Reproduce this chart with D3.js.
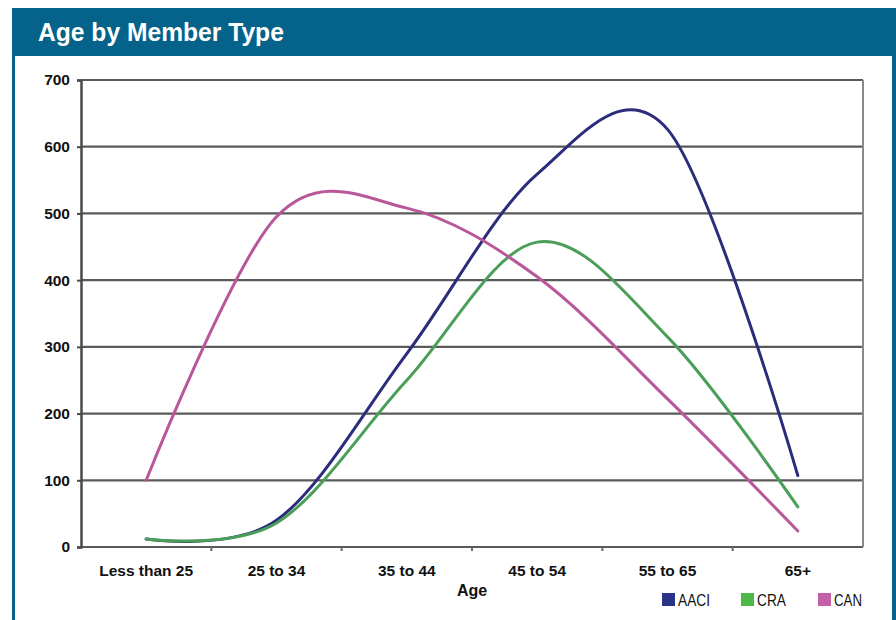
<!DOCTYPE html>
<html>
<head>
<meta charset="utf-8">
<script src="https://cdn.jsdelivr.net/npm/d3@7"></script>
<style>
  html, body { margin: 0; padding: 0; background: #ffffff; }
  svg { display: block; }
</style>
</head>
<body>
<svg id="chart" width="896" height="620"></svg>
<script>
// ---- data ----
const categories = ["Less than 25", "25 to 34", "35 to 44", "45 to 54", "55 to 65", "65+"];
const aaciValues = [12, 40, 290, 559, 626, 107];
const craValues  = [12, 36, 250, 457, 315, 60];
const canValues  = [100, 495, 508, 405, 222, 24];
const yTickValues = [0, 100, 200, 300, 400, 500, 600, 700];
const seriesNames = ["AACI", "CRA", "CAN"];
const chartTitle = "Age by Member Type";
const xTitle = "Age";

(function () {
const series = [
  { name: seriesNames[0], values: aaciValues, line: "#2b2d7c", swatch: "#2b3388" },
  { name: seriesNames[1], values: craValues,  line: "#4a9e58", swatch: "#4cb848" },
  { name: seriesNames[2], values: canValues,  line: "#b8579a", swatch: "#c45fa8" }
];

const svg = d3.select("#chart");
const frameColor = "#05628a";
const sans = "'Liberation Sans', Arial, Helvetica, sans-serif";

// fit a text element horizontally to a target width (condensed look)
function condense(sel, x0, targetW) {
  const w = sel.node().getComputedTextLength();
  const yv = +sel.attr("y");
  sel.attr("x", 0).attr("y", 0)
     .attr("transform", `translate(${x0},${yv}) scale(${targetW / w},1)`);
}

// title bar
svg.append("rect").attr("x", 12).attr("y", 8).attr("width", 884).attr("height", 48).attr("fill", frameColor);
const title = svg.append("text").attr("x", 38).attr("y", 41)
  .attr("font-family", sans)
  .attr("font-weight", "bold").attr("font-size", 26).attr("fill", "#ffffff")
  .text(chartTitle);
condense(title, 38, 246);
// side borders
svg.append("rect").attr("x", 12).attr("y", 56).attr("width", 3).attr("height", 564).attr("fill", frameColor);
svg.append("rect").attr("x", 892).attr("y", 56).attr("width", 4).attr("height", 564).attr("fill", frameColor);

// scales
const pLeft = 81, pRight = 863, pTop = 80, pBottom = 547;
const x = d3.scaleBand().domain(categories).range([pLeft, pRight]).padding(0);
const xc = d => x(d) + x.bandwidth() / 2;
const y = d3.scaleLinear().domain([0, 700]).range([pBottom, pTop]);

// gridlines
const g = svg.append("g");
g.selectAll("line.grid").data(yTickValues).join("line")
  .attr("class", "grid")
  .attr("x1", pLeft).attr("x2", pRight)
  .attr("y1", d => y(d)).attr("y2", d => y(d))
  .attr("stroke", "#5a5a5a").attr("stroke-width", 2.2);
g.append("line").attr("x1", pRight).attr("x2", pRight).attr("y1", pTop).attr("y2", pBottom)
  .attr("stroke", "#8a8a8a").attr("stroke-width", 2);

// y axis
const yAxis = d3.axisLeft(y).tickValues(yTickValues).tickSize(4).tickPadding(7);
const ya = svg.append("g").attr("transform", `translate(${pLeft},0)`).call(yAxis);
ya.select(".domain").attr("stroke", "#4a4a4a").attr("stroke-width", 2.5);
ya.selectAll(".tick line").attr("stroke", "#4a4a4a").attr("stroke-width", 2);
ya.selectAll(".tick text").attr("font-family", sans)
  .attr("font-weight", "bold").attr("font-size", 15.5).attr("fill", "#111");

// x axis labels
const xAxis = d3.axisBottom(x).tickSize(0).tickPadding(18);
const xa = svg.append("g").attr("transform", `translate(0,${pBottom})`).call(xAxis);
xa.select(".domain").remove();
xa.selectAll(".tick text").attr("font-family", sans)
  .attr("font-weight", "bold").attr("font-size", 15.5).attr("fill", "#111");
const bounds = categories.slice(1).map(c => x(c));
svg.append("g").selectAll("line").data(bounds).join("line")
  .attr("x1", d => d).attr("x2", d => d).attr("y1", pBottom).attr("y2", pBottom + 4)
  .attr("stroke", "#6a6a6a").attr("stroke-width", 2);
svg.append("text").attr("x", 472).attr("y", 596).attr("text-anchor", "middle")
  .attr("font-family", sans)
  .attr("font-weight", "bold").attr("font-size", 16).attr("fill", "#111").text(xTitle);

// lines
const line = d3.line().x((d, i) => xc(categories[i])).y(d => y(d)).curve(d3.curveCardinal.tension(0));
svg.append("g").selectAll("path").data(series).join("path")
  .attr("d", s => line(s.values))
  .attr("fill", "none").attr("stroke", s => s.line).attr("stroke-width", 3)
  .attr("stroke-linejoin", "round").attr("stroke-linecap", "round");

// legend
const legendX = [662, 741, 818];
const legendW = [32, 29, 28];
const lg = svg.append("g");
series.forEach((s, i) => {
  lg.append("rect").attr("x", legendX[i]).attr("y", 593).attr("width", 13).attr("height", 13).attr("fill", s.swatch);
  const t = lg.append("text").attr("x", legendX[i] + 16).attr("y", 606)
    .attr("font-family", sans)
    .attr("font-size", 17).attr("fill", "#111").text(s.name);
  condense(t, legendX[i] + 16, legendW[i]);
});
})();
</script>
</body>
</html>
